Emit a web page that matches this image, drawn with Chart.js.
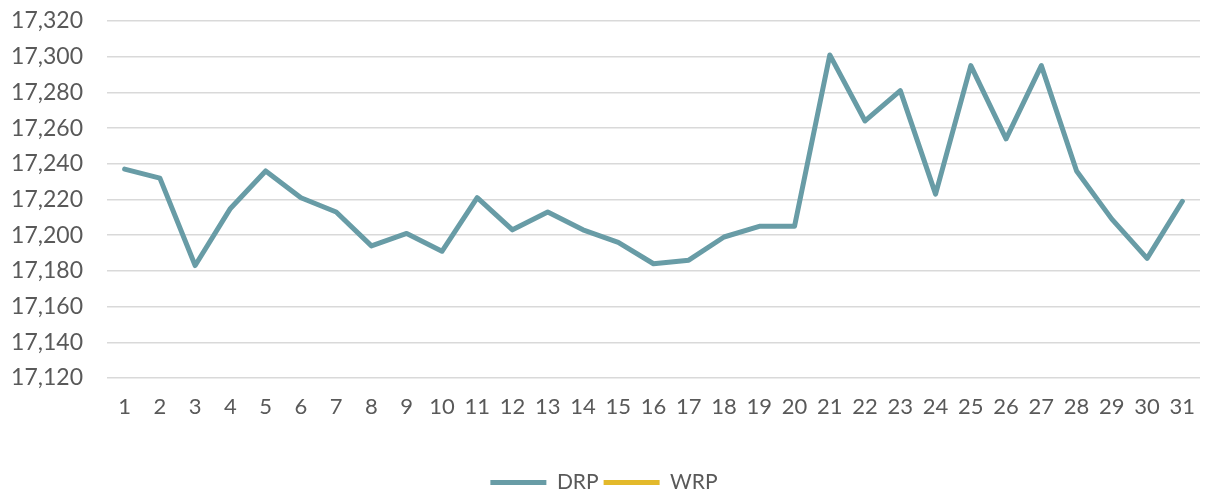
<!DOCTYPE html>
<html>
<head>
<meta charset="utf-8">
<script src="https://cdn.jsdelivr.net/npm/chart.js@4"></script>
<style>
  html, body { margin: 0; padding: 0; background: #fff; overflow: hidden; }
  #wrap { width: 1205px; height: 496px; position: relative; }
</style>
</head>
<body>
<div id="wrap"><canvas id="rateChart"></canvas></div>
<script>
const days = ['1','2','3','4','5','6','7','8','9','10','11','12','13','14','15','16','17','18','19','20','21','22','23','24','25','26','27','28','29','30','31'];
const drpValues = [17237, 17232, 17183, 17215, 17236, 17221, 17213, 17194, 17201, 17191, 17221, 17203, 17213, 17203, 17196, 17184, 17186, 17199, 17205, 17205, 17301, 17264, 17281, 17223, 17295, 17254, 17295, 17236, 17209, 17187, 17219];
const wrpValues = days.map(() => null);
const yMin = 17120;
const yMax = 17320;
const yStep = 20;

Chart.defaults.font.family = 'Lato, "Open Sans", sans-serif';
Chart.defaults.color = '#595959';

const ctx = document.getElementById('rateChart').getContext('2d');
new Chart(ctx, {
    type: 'line',
    data: {
        labels: days,
        datasets: [{
            label: 'DRP',
            data: drpValues,
            borderColor: '#689CA6',
            backgroundColor: '#689CA6',
            borderWidth: 5,
            borderCapStyle: 'round',
            borderJoinStyle: 'round',
            pointRadius: 0,
            tension: 0
        }, {
            label: 'WRP',
            data: wrpValues,
            borderColor: '#E3B92B',
            backgroundColor: '#E3B92B',
            borderWidth: 5,
            borderCapStyle: 'round',
            pointRadius: 0
        }]
    },
    options: {
        responsive: true,
        maintainAspectRatio: false,
        animation: false,
        layout: {
            padding: { left: 8, right: 5, top: 0, bottom: -7 }
        },
        plugins: {
            legend: {
                position: 'bottom',
                labels: {
                    usePointStyle: true,
                    pointStyle: 'line',
                    pointStyleWidth: 56,
                    boxWidth: 56,
                    boxHeight: 10,
                    padding: 5,
                    font: { size: 21 }
                }
            },
            tooltip: { enabled: false }
        },
        scales: {
            x: {
                offset: true,
                grid: { display: false, drawTicks: false },
                border: { display: false },
                ticks: { padding: 16, maxRotation: 0, autoSkip: false, font: { size: 22 } },
                afterFit: (scale) => {
                    scale.height = 89;
                    scale.paddingLeft = 0;
                    scale.paddingRight = 0;
                }
            },
            y: {
                min: yMin,
                max: yMax,
                grid: { color: '#D9D9D9', lineWidth: 1.5, drawTicks: false },
                border: { display: false },
                ticks: { stepSize: yStep, padding: 24, font: { size: 23 } },
                afterFit: (scale) => {
                    scale.width = 99;
                    scale.paddingTop = 21;
                    scale.paddingBottom = 0;
                }
            }
        }
    }
});
</script>
</body>
</html>
